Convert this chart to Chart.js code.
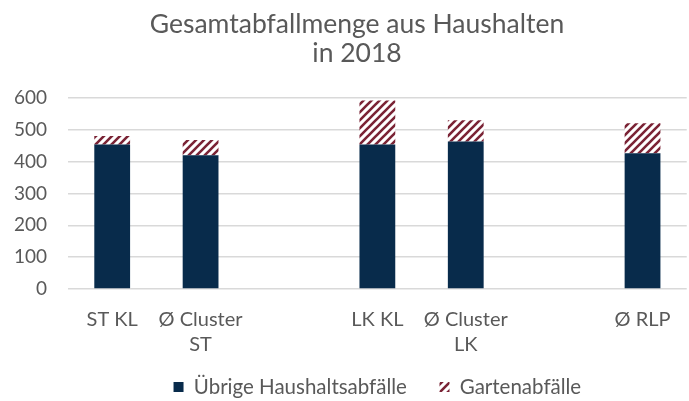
<!DOCTYPE html>
<html>
<head>
<meta charset="utf-8">
<script src="https://cdn.jsdelivr.net/npm/chart.js@4"></script>
<style>
  body { margin: 0; background: #fff; }
  canvas { display: block; }
</style>
</head>
<body>
<canvas id="wasteChart" width="689" height="401"></canvas>
<script>
// data
const categories = ["ST KL", ["Ø Cluster", "ST"], "", "LK KL", ["Ø Cluster", "LK"], "", "Ø RLP"];
const seriesNames = ["Übrige Haushaltsabfälle\u2002\u2009", "Gartenabfälle"];
const householdWaste = [454, 420, null, 454, 463, null, 426];
const gardenWaste = [26, 48, null, 138, 67, null, 94];
const yTicks = [0, 100, 200, 300, 400, 500, 600];

const navy = "#082b4b";
const wine = "#7a2335";
const grey = "#595959";
const fontName = "Lato, 'Open Sans', sans-serif";
const tickSize = 19;

// diagonal hatch used for the garden waste
function makeHatch() {
  const c = document.createElement("canvas");
  c.width = 8;
  c.height = 8;
  const g = c.getContext("2d");
  g.fillStyle = "#fff";
  g.fillRect(0, 0, 8, 8);
  g.strokeStyle = wine;
  g.lineWidth = 2.6;
  g.beginPath();
  g.moveTo(-2, 10); g.lineTo(10, -2);
  g.moveTo(-2, 2); g.lineTo(2, -2);
  g.moveTo(6, 10); g.lineTo(10, 6);
  g.stroke();
  return g.createPattern(c, "repeat");
}

function mainEvent() {
  const ctx = document.getElementById("wasteChart").getContext("2d");
  const hatch = makeHatch();

  // y labels are mirrored so they can sit in the left padding, right aligned 21px off the grid
  ctx.font = tickSize + "px " + fontName;
  const widest = ctx.measureText(String(yTicks[yTicks.length - 1])).width;

  new Chart(ctx, {
    type: "bar",
    data: {
      labels: categories,
      datasets: [
        {
          label: seriesNames[0],
          data: householdWaste,
          backgroundColor: navy,
          barPercentage: 0.405,
          categoryPercentage: 1
        },
        {
          label: seriesNames[1],
          data: gardenWaste,
          backgroundColor: hatch,
          barPercentage: 0.405,
          categoryPercentage: 1
        }
      ]
    },
    options: {
      responsive: false,
      animation: false,
      layout: { padding: { top: 0, right: 0, bottom: -6.25, left: 25 } },
      plugins: {
        title: {
          display: true,
          text: ["Gesamtabfallmenge aus Haushalten", "in 2018"],
          color: grey,
          font: { family: fontName, size: 26.5, weight: "normal", lineHeight: 1.13 },
          padding: { top: 9, bottom: 29 }
        },
        legend: {
          position: "bottom",
          fullSize: false,
          labels: {
            color: grey,
            font: { family: fontName, size: 20.5 },
            boxWidth: 10,
            boxHeight: 10,
            padding: 19.75,
            generateLabels: (chart) => chart.data.datasets.map((ds, i) => ({
              text: ds.label,
              fillStyle: ds.backgroundColor,
              strokeStyle: "rgba(0,0,0,0)",
              lineWidth: 0,
              datasetIndex: i,
              fontColor: grey
            }))
          }
        },
        tooltip: { enabled: false }
      },
      scales: {
        x: {
          stacked: true,
          afterFit: (scale) => { scale.height = 68; },
          grid: { display: false, drawTicks: false },
          border: { display: false },
          ticks: {
            color: grey,
            font: { family: fontName, size: 20, lineHeight: 1.25 },
            maxRotation: 0,
            autoSkip: false,
            padding: 18.5
          }
        },
        y: {
          stacked: true,
          min: 0,
          max: 600,
          afterFit: (scale) => { scale.width = 43; },
          afterBuildTicks: (scale) => { scale.ticks = yTicks.map((v) => ({ value: v })); },
          grid: { color: "#d9d9d9", lineWidth: 1.5, drawTicks: false },
          border: { display: false },
          ticks: {
            color: grey,
            font: { family: fontName, size: tickSize },
            mirror: true,
            crossAlign: "far",
            padding: -21 - widest
          }
        }
      }
    }
  });
}

document.addEventListener("DOMContentLoaded", () => mainEvent());
</script>
</body>
</html>
